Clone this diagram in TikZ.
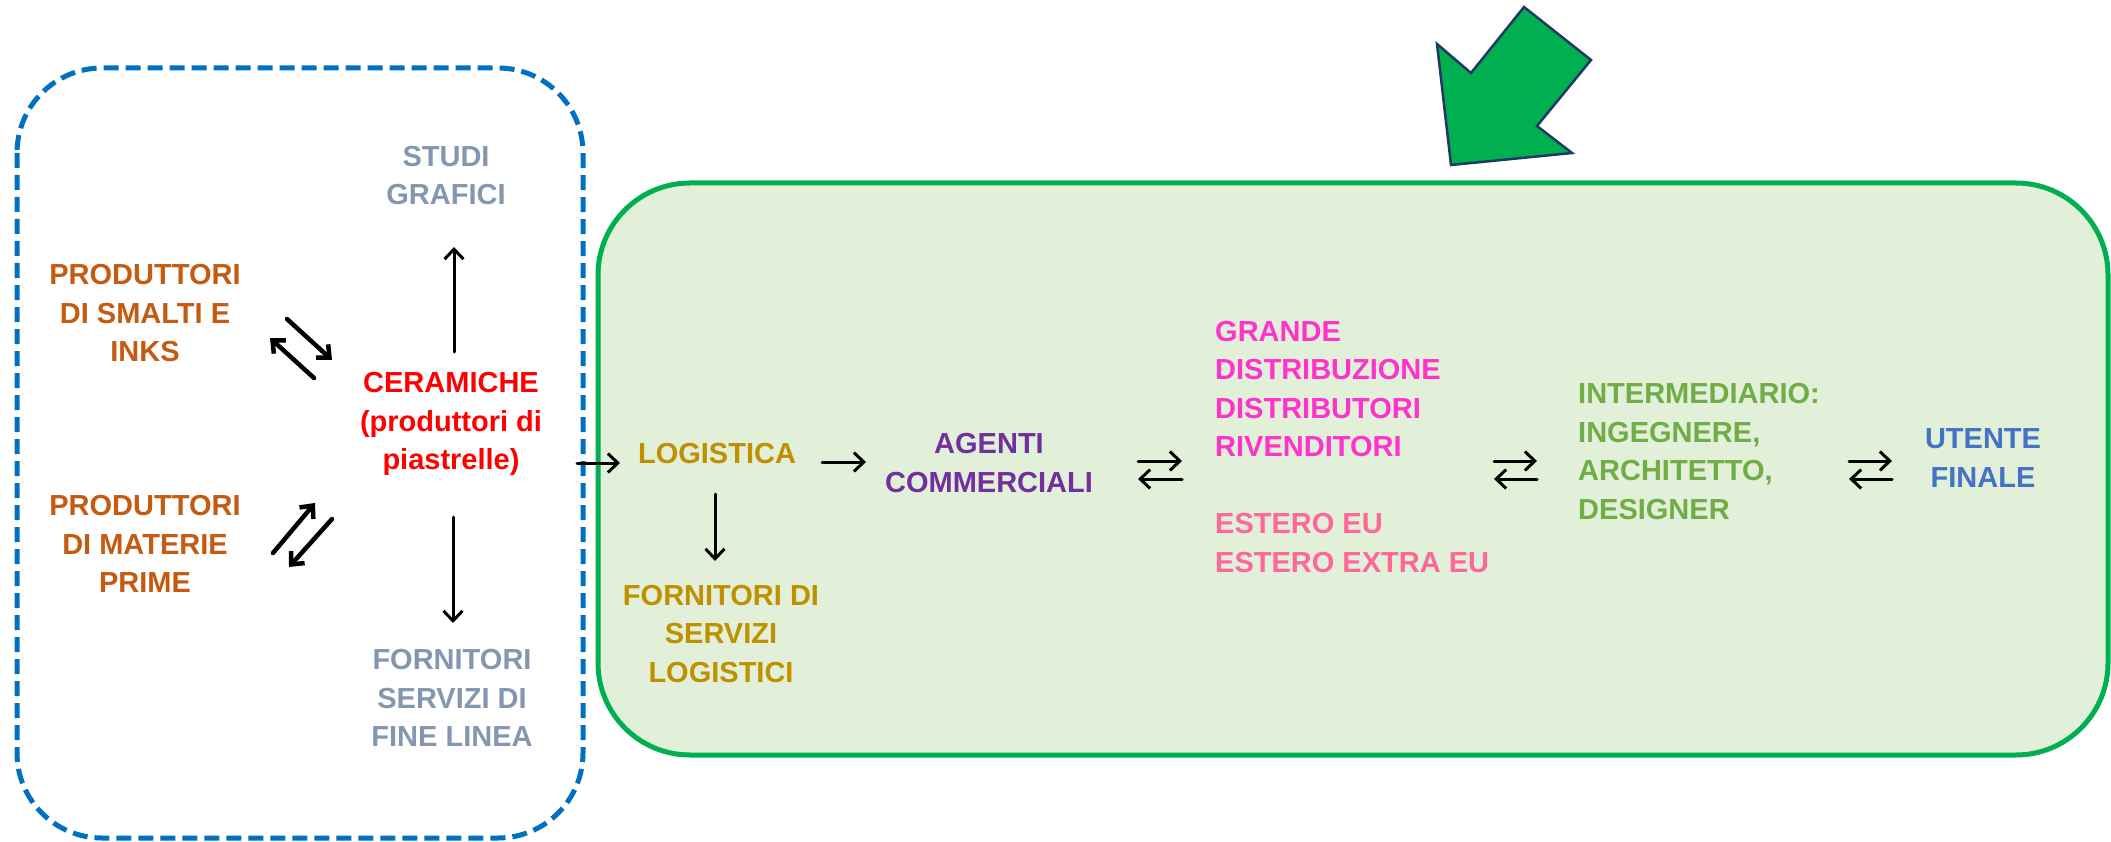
\documentclass[tikz,border=0pt]{standalone}
\usepackage{fontspec}
\setmainfont{Liberation Sans}
\usetikzlibrary{arrows.meta}
\definecolor{boxblue}{HTML}{0070C0}
\definecolor{boxgreen}{HTML}{00B050}
\definecolor{boxfill}{HTML}{E2F0D9}
\definecolor{navy}{HTML}{1F3864}
\definecolor{grigio}{HTML}{8497B0}
\definecolor{arancio}{HTML}{C55A11}
\definecolor{oro}{HTML}{BF9000}
\definecolor{viola}{HTML}{7030A0}
\definecolor{magenta}{HTML}{FF33CC}
\definecolor{rosa}{HTML}{FF6699}
\definecolor{verde}{HTML}{70AD47}
\definecolor{blu}{HTML}{4472C4}

\begin{document}
\begin{tikzpicture}[x=1pt,y=-1pt,
  txt/.style={inner sep=0pt, align=center, font=\bfseries\fontsize{29}{38.5}\selectfont},
  arr/.style={line width=3pt, line cap=round, -{Straight Barb[length=10pt,width=19pt]}},
  thickarr/.style={line width=4.5pt, line cap=round, -{Straight Barb[length=10pt,width=18pt]}}]

\useasboundingbox (0,0) rectangle (2111,842);

% Draw the two frames
\draw[boxgreen, line width=5pt, fill=boxfill, rounded corners=92pt] (598,183) rectangle (2108,755);
\draw[boxblue, line width=5pt, dash pattern=on 15pt off 7pt, rounded corners=85pt] (17,68) rectangle (583,838);

% big arrow
\draw[navy, line width=2.5pt, line join=miter, fill=boxgreen]
  (1524,7) -- (1591,60) -- (1537,126) -- (1572,153) -- (1451,165) -- (1437,44) -- (1471,73) -- cycle;

% left part
\node[txt, grigio]  (studi)    at (446,175.5) {STUDI\\GRAFICI};
\node[txt, arancio] (smalti)   at (145,313.5) {PRODUTTORI\\DI SMALTI E\\INKS};
\node[txt, arancio] (materie)  at (145,544)   {PRODUTTORI\\DI MATERIE\\PRIME};
\node[txt, red]     (ceramiche) at (451,424)  {CERAMICHE\\(produttori di\\piastrelle)};
\node[txt, grigio]  (finelinea) at (452,698)  {FORNITORI\\SERVIZI DI\\FINE LINEA};

% right part
\node[txt, oro]     (logistica) at (717,454)  {LOGISTICA};
\node[txt, oro]     (servizi)   at (721,634)  {FORNITORI DI\\SERVIZI\\LOGISTICI};
\node[txt, viola]   (agenti)    at (989,463)  {AGENTI\\COMMERCIALI};
\node[txt, magenta, anchor=west, align=left] (grande) at (1215,389) {GRANDE\\DISTRIBUZIONE\\DISTRIBUTORI\\RIVENDITORI};
\node[txt, rosa, anchor=west, align=left]    (estero) at (1215,543) {ESTERO EU\\ESTERO EXTRA EU};
\node[txt, verde, anchor=west, align=left]   (intermediario) at (1578,451.5) {INTERMEDIARIO:\\INGEGNERE,\\ARCHITETTO,\\DESIGNER};
\node[txt, blu]     (utente)    at (1983,458) {UTENTE\\FINALE};

% arrow ends
\coordinate (sm1) at (287,319); \coordinate (sm2) at (332,360);
\coordinate (sm3) at (314,378); \coordinate (sm4) at (270,338);
\coordinate (ma1) at (273,553); \coordinate (ma2) at (315,503);
\coordinate (ma3) at (332,519); \coordinate (ma4) at (289,567);
\coordinate (up1) at (454,352); \coordinate (up2) at (454,247);
\coordinate (dn1) at (453,517); \coordinate (dn2) at (453,623);
\coordinate (ce1) at (577,463); \coordinate (ce2) at (620,463);
\coordinate (lo1) at (715,494); \coordinate (lo2) at (715,561);
\coordinate (lo3) at (822,462); \coordinate (lo4) at (866,462);

\draw[thickarr] (sm1) -- (sm2);
\draw[thickarr] (sm3) -- (sm4);
\draw[thickarr] (ma1) -- (ma2);
\draw[thickarr] (ma3) -- (ma4);
\draw[arr] (up1) -- (up2);
\draw[arr] (dn1) -- (dn2);
\draw[arr] (ce1) -- (ce2);
\draw[arr] (lo1) -- (lo2);
\draw[arr] (lo3) -- (lo4);

% double arrows
\foreach \name/\xa/\xb in {ag/1138/1182, ri/1494/1537, in/1849/1892} {
  \coordinate (\name1) at (\xa,461); \coordinate (\name2) at (\xb,461);
  \coordinate (\name3) at (\xb,479); \coordinate (\name4) at (\xa,479);
  \draw[arr] (\name1) -- (\name2);
  \draw[arr] (\name3) -- (\name4);
}

\end{tikzpicture}
\end{document}
